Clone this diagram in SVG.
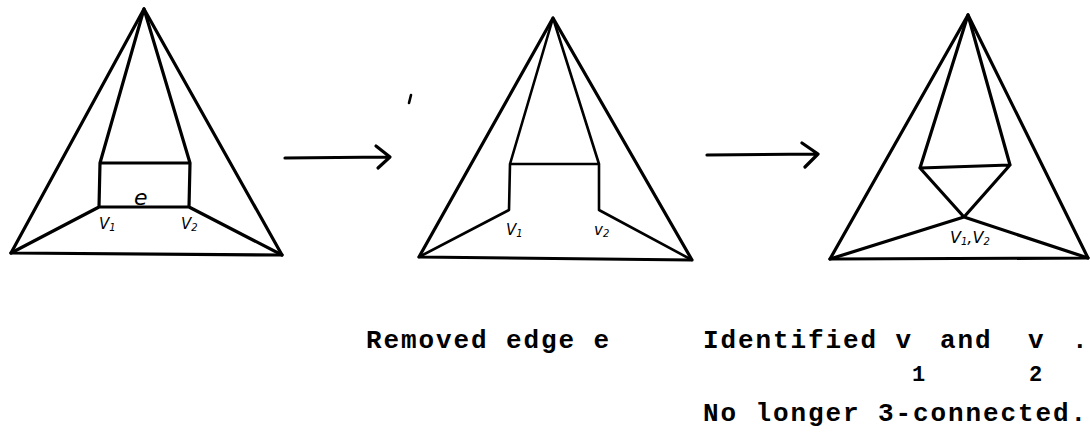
<svg xmlns="http://www.w3.org/2000/svg" width="1090" height="447" viewBox="0 0 1090 447">
<style>
.e{stroke:#000;stroke-width:3.2;fill:none;stroke-linecap:round;stroke-linejoin:round}
.t{stroke:#000;stroke-width:2.6;fill:none;stroke-linecap:round;stroke-linejoin:round}
.hand{font-family:"DejaVu Sans",sans-serif;font-style:italic;fill:#000}
.cap{font-family:"Liberation Mono",monospace;font-weight:bold;font-size:26px;letter-spacing:1.9px;fill:#000}
.sub{font-family:"Liberation Mono",monospace;font-weight:bold;font-size:22px;fill:#000}
</style>
<rect width="1090" height="447" fill="#fff"/>
<g id="graph1">
<path class="e" d="M144 9 L11 253 L282 255 Z"/>
<path class="e" d="M144 9 L100 163 M144 9 L190 163 M100 163 L190 163 M100 163 L99 207 M190 163 L189 207 M99 207 L189 207 M99 207 L11 253 M189 207 L282 255"/>
<text class="hand" x="134" y="205" font-size="22">e</text>
<text class="hand" x="99" y="229" font-size="15">V<tspan font-size="10" dy="2">1</tspan></text>
<text class="hand" x="181" y="229" font-size="15">V<tspan font-size="10" dy="2">2</tspan></text>
</g>
<g id="graph2">
<path class="e" d="M553 18 L419 257 L692 260 Z"/>
<path class="t" d="M553 18 L510 164 M553 18 L599 164 M510 164 L599 164 M510 164 L509 210 M599 164 L599 210 M509 210 L419 257 M599 210 L692 260"/>
<path class="t" d="M411 95 L409 103"/>
<text class="hand" x="506" y="235" font-size="15">V<tspan font-size="10" dy="2">1</tspan></text>
<text class="hand" x="594" y="235" font-size="15">v<tspan font-size="10" dy="2">2</tspan></text>
</g>
<g id="graph3">
<path class="e" d="M968 15 L830 259 L1088 258 Z"/>
<path class="e" d="M968 15 L920 168 M968 15 L1010 165 M920 168 L1010 165 M920 168 L964 217 M1010 165 L964 217 M964 217 L830 259 M964 217 L1088 258"/>
<text class="hand" x="950" y="243" font-size="16">V<tspan font-size="10" dy="2">1</tspan><tspan dy="-2">,</tspan>V<tspan font-size="10" dy="2">2</tspan></text>
</g>
<g id="connectors">
<path class="e" d="M285 158 L389 157 M376 146 L390 157 L378 168"/>
<path class="e" d="M707 155 L817 154 M802 143 L818 154 L805 167"/>
</g>
<g id="captions">
<text class="cap" x="366" y="348">Removed edge e</text>
<text class="cap" x="703" y="348">Identified v</text>
<text class="cap" x="940" y="348">and</text>
<text class="cap" x="1028" y="348">v</text>
<text class="cap" x="1072" y="348">.</text>
<text class="sub" x="912" y="381">1</text>
<text class="sub" x="1029" y="381">2</text>
<text class="cap" x="703" y="421">No longer 3-connected.</text>
</g>
</svg>
